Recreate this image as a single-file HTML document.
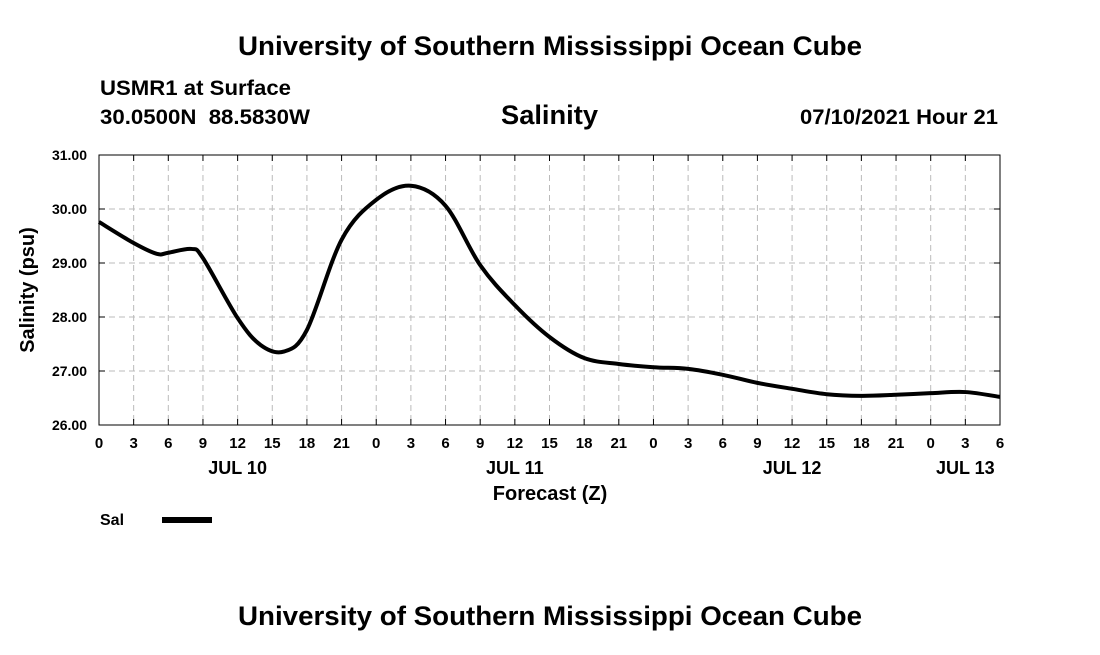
<!DOCTYPE html>
<html><head><meta charset="utf-8"><style>
body{margin:0;background:#fff;}
svg text{font-family:"Liberation Sans",sans-serif;font-weight:bold;fill:#000;}
</style></head><body>
<svg id="chart" width="1100" height="650" xmlns="http://www.w3.org/2000/svg">
<text x="238" y="55" font-size="27" textLength="624" lengthAdjust="spacingAndGlyphs">University of Southern Mississippi Ocean Cube</text>
<text x="100" y="95" font-size="21" textLength="191" lengthAdjust="spacingAndGlyphs">USMR1 at Surface</text>
<text x="100" y="124" font-size="21" textLength="210" lengthAdjust="spacingAndGlyphs" xml:space="preserve">30.0500N  88.5830W</text>
<text x="501" y="124" font-size="27" textLength="97" lengthAdjust="spacingAndGlyphs">Salinity</text>
<text x="800" y="124" font-size="21" textLength="198" lengthAdjust="spacingAndGlyphs">07/10/2021 Hour 21</text>
<g id="grid"></g>
<g id="axes"></g>
<path id="line" fill="none" stroke="#000" stroke-width="4"/>
<text transform="translate(34,290) rotate(-90)" font-size="20" text-anchor="middle">Salinity (psu)</text>
<text x="550" y="500" font-size="20" text-anchor="middle">Forecast (Z)</text>
<text x="100" y="525" font-size="16">Sal</text>
<line x1="162" y1="520" x2="212" y2="520" stroke="#000" stroke-width="6"/>
<text x="238" y="625" font-size="27" textLength="624" lengthAdjust="spacingAndGlyphs">University of Southern Mississippi Ocean Cube</text>
</svg>
<script>
const hours=[0,3,5,6,8,9,12,14,16,18,21,24,27,30,33,36,39,42,45,48,51,54,57,60,63,66,69,72,75,78];
const salinity=[29.76,29.37,29.17,29.19,29.26,29.09,27.98,27.48,27.36,27.76,29.43,30.17,30.43,30.06,28.96,28.22,27.63,27.24,27.13,27.07,27.04,26.93,26.78,26.67,26.57,26.54,26.56,26.59,26.61,26.52];
const yTicks=[26,27,28,29,30,31];
const xTickLabels=["0","3","6","9","12","15","18","21","0","3","6","9","12","15","18","21","0","3","6","9","12","15","18","21","0","3","6"];
const dayLabels=["JUL 10","JUL 11","JUL 12","JUL 13"];
const dayHours=[12,36,60,75];
const X0=99,X1=1000,Y0=425,Y1=155,H=78,YMIN=26,YMAX=31;
const sx=h=>X0+(X1-X0)*h/H, sy=v=>Y0-(Y0-Y1)*(v-YMIN)/(YMAX-YMIN);
const NS="http://www.w3.org/2000/svg";
function mk(tag,attrs,parent,txt){const e=document.createElementNS(NS,tag);for(const k in attrs)e.setAttribute(k,attrs[k]);if(txt!==undefined)e.textContent=txt;document.getElementById(parent).appendChild(e);return e;}
xTickLabels.forEach((l,i)=>{const x=sx(i*3);
 const g=mk('line',{x1:x,x2:x,y1:Y1,y2:Y0,stroke:'#bbb','stroke-dasharray':'6,4'},'grid');
 
 const t1=mk('line',{x1:x,x2:x,y1:Y0,y2:Y0-6,stroke:'#000'},'axes');
 const t2=mk('line',{x1:x,x2:x,y1:Y1,y2:Y1+6,stroke:'#000'},'axes');
 const t=mk('text',{x:x,y:448,'font-size':15,'text-anchor':'middle'},'axes',l);});
yTicks.forEach(v=>{const y=sy(v);
 const g=mk('line',{x1:X0,x2:X1,y1:y,y2:y,stroke:'#bbb','stroke-dasharray':'6,4'},'grid');
 
 const t1=mk('line',{x1:X0,x2:X0+6,y1:y,y2:y,stroke:'#000'},'axes');
 const t2=mk('line',{x1:X1,x2:X1-6,y1:y,y2:y,stroke:'#000'},'axes');
 const t=mk('text',{x:X0-12,y:y+5,'font-size':14,'text-anchor':'end'},'axes',v.toFixed(2));});
dayLabels.forEach((l,i)=>{const t=mk('text',{x:sx(dayHours[i]),y:474,'font-size':18,'text-anchor':'middle'},'axes',l);
 });
const b=mk('rect',{x:X0,y:Y1,width:X1-X0,height:Y0-Y1,fill:'none',stroke:'#000','stroke-width':1},'axes');

const P=hours.map((h,i)=>[sx(h),sy(salinity[i])]);
let d='M'+P[0][0]+','+P[0][1];
for(let i=0;i<P.length-1;i++){const p0=P[Math.max(0,i-1)],p1=P[i],p2=P[i+1],p3=P[Math.min(P.length-1,i+2)];
 d+=' C'+(p1[0]+(p2[0]-p0[0])/6)+','+(p1[1]+(p2[1]-p0[1])/6)+' '+(p2[0]-(p3[0]-p1[0])/6)+','+(p2[1]-(p3[1]-p1[1])/6)+' '+p2[0]+','+p2[1];}
document.getElementById('line').setAttribute('d',d);
</script>
</body></html>
